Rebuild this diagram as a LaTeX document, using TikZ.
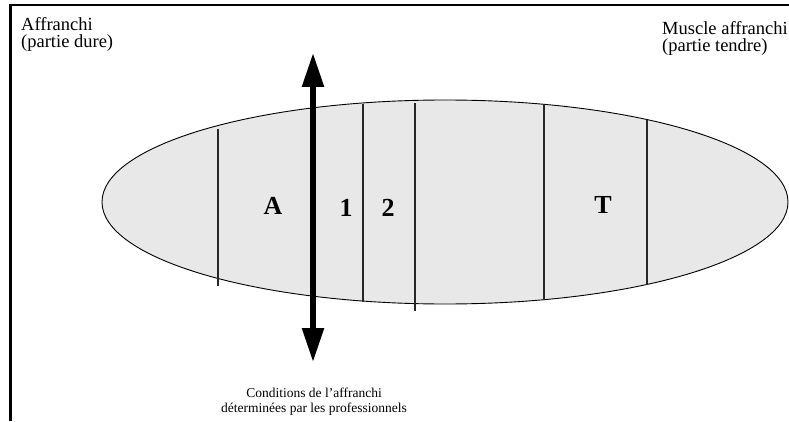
\documentclass[tikz,border=0pt]{standalone}
\usepackage{fontspec}
\setmainfont{Liberation Serif}
\usetikzlibrary{arrows.meta}
\begin{document}
\begin{tikzpicture}[x=1pt,y=1pt,
  lbl/.style={inner sep=0pt, font=\fontsize{18.5}{18.5}\selectfont, anchor=base west},
  note/.style={inner sep=0pt, font=\fontsize{13.5}{15}\selectfont, anchor=base},
  zone/.style={inner sep=0pt, font=\fontsize{26}{26}\selectfont\bfseries, anchor=base},
  divider/.style={draw=black!85, line width=1.3pt},
  bigarrow/.style={line width=5.5pt, {Triangle[length=34pt,width=21pt]}-{Triangle[length=34pt,width=21pt]}},
]
\useasboundingbox (0,0) rectangle (789,421);
% frame (top and left sides)
\draw[line width=2.5pt] (10.5,0) -- (10.5,416) -- (789,416);
% the piece of meat
\draw[fill=black!9, line width=0.9pt] (445,219) ellipse [x radius=343, y radius=102];
% dividers
\draw[divider] (218,292) -- (218,135);
\draw[divider] (363,317) -- (363,119);
\draw[divider] (415,318) -- (415,110);
\draw[divider] (544,317) -- (544,121);
\draw[divider] (647,301) -- (647,136);
% zone letters
\node[zone] (zA) at (273,207) {A};
\node[zone] (z1) at (346,205) {1};
\node[zone] (z2) at (388,205) {2};
\node[zone] (zT) at (603,208) {T};
% double arrow
\coordinate (arrtop) at (313,368);
\coordinate (arrbot) at (313,59);
\draw[bigarrow] (arrtop) -- (arrbot);
% labels
\node[lbl] (l1) at (21,390) {Affranchi};
\node[lbl] (l2) at (21,373) {(partie dure)};
\node[lbl] (r1) at (662,386) {Muscle affranchi};
\node[lbl] (r2) at (662,369) {(partie tendre)};
\node[note] (b1) at (314,24) {Conditions de l’affranchi};
\node[note] (b2) at (314,9) {déterminées par les professionnels};
\end{tikzpicture}
\end{document}
